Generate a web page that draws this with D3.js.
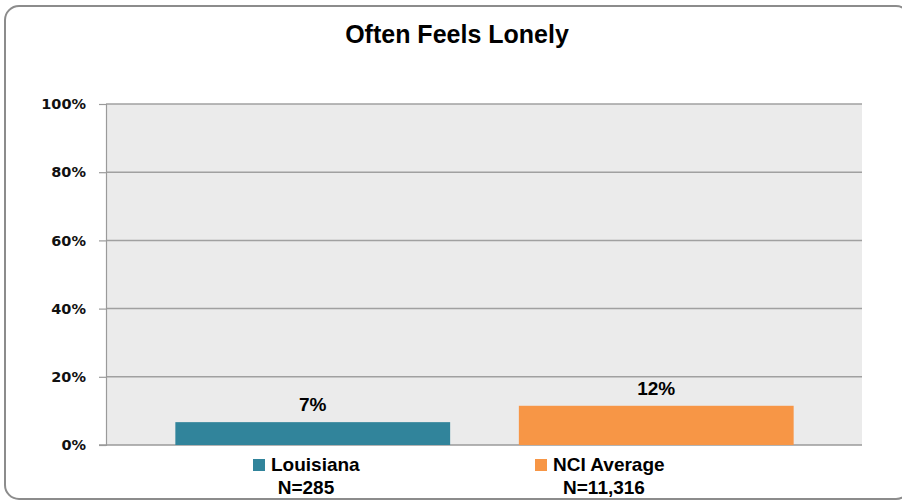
<!DOCTYPE html>
<html><head><meta charset="utf-8">
<script src="https://cdn.jsdelivr.net/npm/d3@7"></script>
<style>body{margin:0;background:#fff;} svg{display:block;}</style>
</head><body>
<svg id="c" width="902" height="500"></svg>
<script>
const categories = ["Louisiana", "NCI Average"];
const sampleSizes = ["N=285", "N=11,316"];
const values = [6.7, 11.5];
const valueLabels = ["7%", "12%"];
const yTicks = [0, 20, 40, 60, 80, 100];
const colors = ["#31849b", "#f79646"];

const svg = d3.select("#c");
const plot = {left: 106, right: 862, top: 104, bottom: 445};
const textFont = "'Liberation Sans', Arial, sans-serif";

svg.append("rect").attr("x", 5).attr("y", 6).attr("width", 905).attr("height", 493)
  .attr("rx", 14).attr("fill", "#fff").attr("stroke", "#8c8c8c").attr("stroke-width", 2);

svg.append("text").attr("x", 457).attr("y", 43).attr("text-anchor", "middle")
  .style("font-family", textFont).style("font-weight", "bold").style("font-size", "25px")
  .text("Often Feels Lonely");

const y = d3.scaleLinear().domain([0, 100]).range([plot.bottom, plot.top]);
const x = d3.scaleBand().domain(categories).range([141, 828]).paddingInner(0.2).paddingOuter(0.1);

svg.append("rect").attr("x", plot.left).attr("y", plot.top)
  .attr("width", plot.right - plot.left).attr("height", plot.bottom - plot.top).attr("fill", "#ebebeb");

const grid = svg.append("g");
grid.selectAll("line").data(yTicks.filter(d => d > 0)).join("line")
  .attr("x1", plot.left).attr("x2", plot.right)
  .attr("y1", d => y(d)).attr("y2", d => y(d))
  .attr("stroke", "#a0a0a0").attr("stroke-width", 1.5);

const yAxis = svg.append("g").attr("transform", `translate(${plot.left},0)`)
  .call(d3.axisLeft(y).tickValues(yTicks).tickFormat(d => d + "%").tickSize(7).tickPadding(13));
yAxis.select(".domain").attr("stroke", "#9a9a9a").attr("stroke-width", 1.2);
yAxis.selectAll(".tick line").attr("stroke", "#9a9a9a").attr("stroke-width", 1.2);
yAxis.selectAll(".tick text").style("font-family", "'DejaVu Sans', sans-serif")
  .style("font-weight", "bold").style("font-size", "14.5px").attr("fill", "#111");

svg.append("line").attr("x1", plot.left - 7).attr("x2", plot.right)
  .attr("y1", plot.bottom).attr("y2", plot.bottom).attr("stroke", "#9a9a9a").attr("stroke-width", 1.5);

const bars = svg.append("g");
bars.selectAll("rect").data(categories).join("rect")
  .attr("x", d => x(d)).attr("width", x.bandwidth())
  .attr("y", (d, i) => y(values[i])).attr("height", (d, i) => y(0) - y(values[i]))
  .attr("fill", (d, i) => colors[i]);

bars.selectAll("text").data(categories).join("text")
  .attr("x", d => x(d) + x.bandwidth() / 2)
  .attr("y", (d, i) => y(values[i]) - 11)
  .attr("text-anchor", "middle")
  .style("font-family", textFont).style("font-weight", "bold").style("font-size", "19px")
  .text((d, i) => valueLabels[i]);

// legend layout (positions only)
const legendSquareX = [253, 535];
const sampleCenterX = [306, 604];
const leg = svg.append("g");
categories.forEach((c, i) => {
  const g = leg.append("g");
  g.append("rect").attr("x", legendSquareX[i]).attr("y", 459).attr("width", 12).attr("height", 12).attr("fill", colors[i]);
  g.append("text").attr("x", legendSquareX[i] + 18).attr("y", 471)
    .style("font-family", textFont).style("font-weight", "bold").style("font-size", "19px").text(c);
  g.append("text").attr("x", sampleCenterX[i]).attr("y", 494).attr("text-anchor", "middle")
    .style("font-family", textFont).style("font-weight", "bold").style("font-size", "19px").text(sampleSizes[i]);
});
</script>
</body></html>
